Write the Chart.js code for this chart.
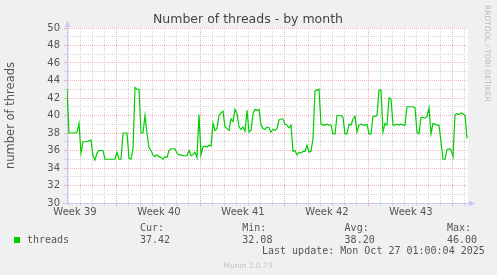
<!DOCTYPE html>
<html>
<head>
<meta charset="utf-8">
<script src="https://cdn.jsdelivr.net/npm/chart.js@4/dist/chart.umd.min.js"></script>
<style>
  html, body { margin: 0; padding: 0; background: #f0f0f0; }
  canvas { display: block; }
</style>
</head>
<body>
<canvas id="threads-month" width="497" height="275"></canvas>
<script>
// one sample every 4 hours, oldest first
var threads = [
  43, 38, 38, 38, 38, 38.1, 39.1, 35.7, 37.0, 37.0,
  37.0, 37.1, 37.2, 35.4, 34.9, 35.7, 36.0, 36.0, 36.0, 35.0,
  35.0, 35.0, 35.0, 35.0, 35.0, 35.8, 35.0, 35.0, 38.0, 38.0,
  38.0, 35.1, 35.0, 36.2, 43.2, 43.0, 43.0, 38.0, 38.0, 40.0,
  38.0, 36.3, 36.0, 35.5, 35.3, 35.5, 35.3, 35.2, 35.0, 35.3,
  35.2, 36.0, 36.2, 36.2, 36.2, 35.7, 35.5, 35.5, 35.4, 35.4,
  35.4, 36.0, 35.4, 35.5, 35.8, 35.2, 40.1, 35.5, 36.4, 36.5,
  36.4, 36.6, 36.5, 39.1, 38.3, 38.5, 40.0, 40.3, 40.5, 38.7,
  38.5, 38.3, 39.6, 39.3, 40.7, 40.2, 38.7, 38.4, 38.7, 38.2,
  40.6, 38.1, 38.3, 40.2, 40.7, 40.6, 40.7, 38.9, 38.5, 38.4,
  38.7, 38.6, 38.1, 38.4, 38.3, 38.5, 39.5, 39.6, 39.6, 39.0,
  38.9, 38.6, 38.9, 35.9, 36.0, 35.5, 35.8, 35.7, 35.9, 35.9,
  36.6, 35.8, 35.9, 37.4, 42.8, 42.9, 43.0, 39.0, 38.9, 38.9,
  39.0, 38.9, 38.9, 37.9, 37.9, 40.0, 40.0, 40.0, 39.8, 37.9,
  37.9, 39.0, 38.9, 39.6, 39.9, 38.1, 38.9, 39.0, 38.9, 38.9,
  39.0, 37.9, 37.9, 39.9, 39.9, 40.0, 42.9, 42.9, 38.1, 39.1,
  38.9, 42.0, 41.9, 38.9, 38.9, 39.0, 38.9, 39.0, 38.9, 38.9,
  41.0, 41.0, 41.0, 41.0, 40.9, 38.1, 37.9, 39.8, 39.8, 39.7,
  39.9, 40.9, 37.9, 39.1, 39.0, 38.9, 38.9, 37.0, 35.0, 35.0,
  36.1, 36.2, 36.1, 35.3, 40.1, 40.2, 40.1, 40.3, 40.2, 40.0,
  37.4
];
var stepHours = 4;
var spanHours = 802;

var weekLabels = ["Week 39", "Week 40", "Week 41", "Week 42", "Week 43"];
var weekLabelHours = [16, 184, 352, 520, 688];
var firstMidnight = 2.6;   // hours after graph start
var firstWeekStart = 98.6;

var yMin = 30, yMax = 50;

var statNames = ["Cur:", "Min:", "Avg:", "Max:"];
var statValues = ["37.42", "32.08", "38.20", "46.00"];

var majorGrid = "#f2b0b0";
var minorGrid = "#d4d4d4";
var axisColor = "#c8c8f4";
var textColor = "#555";

var dayHours = [];
for (var h = firstMidnight; h <= spanHours; h += 24) dayHours.push(h);
var yValues = [];
for (var v = yMin; v <= yMax; v++) yValues.push(v);

function isWeekStart(h) {
  var r = (((h - firstWeekStart) % 168) + 168) % 168;
  return r < 1 || r > 167;
}

var munin = {
  id: "munin",
  beforeDraw: function (chart) {
    var a = chart.chartArea, ctx = chart.ctx;
    ctx.save();
    ctx.fillStyle = "#fff";
    ctx.fillRect(a.left, a.top, a.right - a.left, a.bottom - a.top);
    ctx.restore();
  },
  afterDraw: function (chart) {
    var a = chart.chartArea, ctx = chart.ctx;
    ctx.save();

    // axis arrows
    ctx.strokeStyle = axisColor;
    ctx.fillStyle = axisColor;
    ctx.lineWidth = 1;
    ctx.beginPath();
    ctx.moveTo(a.left + 0.5, a.top);
    ctx.lineTo(a.left + 0.5, a.top - 3);
    ctx.moveTo(a.left - 4, a.bottom + 0.5);
    ctx.lineTo(a.left, a.bottom + 0.5);
    ctx.moveTo(a.right, a.bottom + 0.5);
    ctx.lineTo(a.right + 3, a.bottom + 0.5);
    ctx.stroke();
    ctx.beginPath();
    ctx.moveTo(a.left + 0.5, a.top - 7);
    ctx.lineTo(a.left - 2.5, a.top - 1);
    ctx.lineTo(a.left + 3.5, a.top - 1);
    ctx.closePath();
    ctx.fill();
    ctx.beginPath();
    ctx.moveTo(a.right + 7, a.bottom + 0.5);
    ctx.lineTo(a.right + 1, a.bottom - 2.5);
    ctx.lineTo(a.right + 1, a.bottom + 3.5);
    ctx.closePath();
    ctx.fill();

    // title
    ctx.fillStyle = "#444";
    ctx.font = "12.5px 'DejaVu Sans'";
    ctx.textAlign = "center";
    ctx.textBaseline = "alphabetic";
    ctx.fillText("Number of threads - by month", 248, 23);

    // watermark
    ctx.save();
    ctx.translate(485, 5);
    ctx.rotate(Math.PI / 2);
    ctx.fillStyle = "#bbb";
    ctx.font = "7.5px 'DejaVu Sans'";
    ctx.textAlign = "left";
    ctx.fillText("RRDTOOL / TOBI OETIKER", 0, 0);
    ctx.restore();

    // legend
    ctx.fillStyle = "#00cc00";
    ctx.fillRect(14, 237, 6, 6);
    ctx.fillStyle = textColor;
    ctx.font = "10px 'DejaVu Sans Mono'";
    ctx.textAlign = "left";
    ctx.fillText("threads", 27, 243);
    for (var i = 0; i < statNames.length; i++) {
      var x = 140 + i * 102.3;
      ctx.fillText(statNames[i], x, 231);
      ctx.fillText(statValues[i], x, 243);
    }
    ctx.fillText("Last update: Mon Oct 27 01:00:04 2025", 262, 254);

    ctx.fillStyle = "#c4c4c4";
    ctx.font = "7.5px 'DejaVu Sans'";
    ctx.textAlign = "center";
    ctx.fillText("Munin 2.0.73", 248, 268);
    ctx.restore();
  }
};

var ctx = document.getElementById("threads-month").getContext("2d");
var chart = new Chart(ctx, {
  type: "line",
  data: {
    datasets: [
      {
        label: "threads",
        data: threads.map(function (t, i) { return { x: i * stepHours, y: t }; }),
        borderColor: "#00cc00",
        borderWidth: 1.2,
        pointRadius: 0,
        tension: 0,
        fill: false,
        xAxisID: "x",
        yAxisID: "y",
      },
    ],
  },
  plugins: [munin],
  options: {
    responsive: false,
    animation: false,
    layout: { padding: { left: 0, right: 29, top: 28, bottom: 0 } },
    plugins: {
      legend: { display: false },
      tooltip: { enabled: false },
    },
    scales: {
      x: {
        type: "linear",
        position: "bottom",
        weight: 0,
        min: 0,
        max: spanHours,
        afterBuildTicks: function (axis) {
          axis.ticks = dayHours.map(function (h) { return { value: h }; });
        },
        afterFit: function (axis) { axis.height = 0; },
        ticks: { display: false },
        grid: {
          color: function (c) {
            return c.tick && isWeekStart(c.tick.value) ? majorGrid : minorGrid;
          },
          lineWidth: 1,
          drawTicks: true,
          tickLength: 3,
        },
        border: { color: axisColor, width: 1, dash: [1, 1] },
      },
      xl: {
        type: "linear",
        position: "bottom",
        weight: 1,
        min: 0,
        max: spanHours,
        afterBuildTicks: function (axis) {
          axis.ticks = weekLabelHours.map(function (h) { return { value: h }; });
        },
        afterFit: function (axis) { axis.height = 72; },
        grid: { display: false, drawTicks: false },
        border: { display: false },
        ticks: {
          autoSkip: false,
          maxRotation: 0,
          padding: 3,
          color: textColor,
          font: { family: "DejaVu Sans", size: 10 },
          callback: function (value, index) { return weekLabels[index]; },
        },
      },
      y: {
        min: yMin,
        max: yMax,
        afterBuildTicks: function (axis) {
          axis.ticks = yValues.map(function (v) { return { value: v }; });
        },
        afterFit: function (axis) { axis.width = 67; },
        ticks: {
          autoSkip: false,
          padding: 4,
          color: textColor,
          font: { family: "DejaVu Sans", size: 10 },
          callback: function (value) { return value % 2 === 0 ? String(value) : ""; },
        },
        grid: {
          color: function (c) {
            return c.tick && c.tick.value % 2 === 0 ? majorGrid : minorGrid;
          },
          lineWidth: 1,
          drawTicks: true,
          tickLength: 3,
        },
        border: { color: axisColor, width: 1, dash: [1, 1] },
        title: {
          display: true,
          text: "number of threads",
          color: textColor,
          font: { family: "DejaVu Sans", size: 11.5 },
          padding: { top: 4, bottom: 0 },
        },
      },
    },
  },
});
</script>
</body>
</html>
